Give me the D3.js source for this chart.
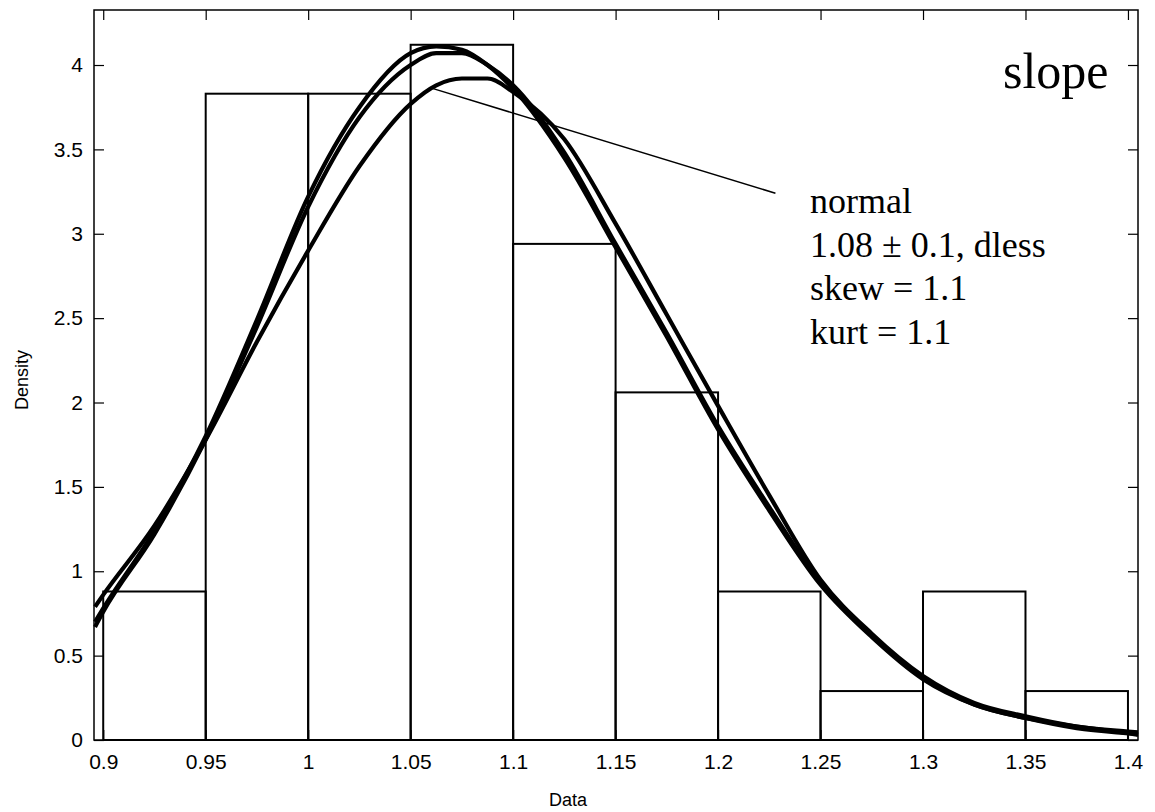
<!DOCTYPE html>
<html>
<head>
<meta charset="utf-8">
<script src="https://cdn.jsdelivr.net/npm/d3@7"></script>
<style>
  body { margin: 0; background: #fff; }
  svg { display: block; }
  .tick text { font-family: "Liberation Sans", Arial, sans-serif; font-size: 21px; fill: #000; }
  .lab { font-family: "Liberation Sans", Arial, sans-serif; font-size: 18px; fill: #000; }
  .note { font-family: "Liberation Serif", "Times New Roman", serif; fill: #000; }
</style>
</head>
<body>
<svg id="chart"></svg>
<script>
// histogram bins (edges) and density heights
var binEdges = [0.9, 0.95, 1.0, 1.05, 1.1, 1.15, 1.2, 1.25, 1.3, 1.35, 1.4];
var binDensity = [0.88, 3.83, 3.83, 4.12, 2.94, 2.06, 0.88, 0.29, 0.88, 0.29];

// fitted curves
var curveX = [0.896, 0.9, 0.925, 0.95, 0.975, 1.0, 1.025, 1.05, 1.0625, 1.075, 1.0875, 1.1, 1.125, 1.15, 1.175, 1.2, 1.225, 1.25, 1.275, 1.3, 1.325, 1.35, 1.375, 1.4, 1.4049];
var curveA = [0.70, 0.78, 1.24, 1.80, 2.49, 3.22, 3.75, 4.07, 4.11, 4.09, 4.00, 3.86, 3.45, 2.92, 2.39, 1.84, 1.36, 0.92, 0.61, 0.36, 0.21, 0.13, 0.08, 0.04, 0.03];
var curveB = [0.67, 0.76, 1.22, 1.78, 2.45, 3.16, 3.69, 4.00, 4.07, 4.07, 4.00, 3.88, 3.48, 2.94, 2.41, 1.86, 1.38, 0.93, 0.62, 0.37, 0.21, 0.13, 0.07, 0.04, 0.035];
var curveC = [0.79, 0.86, 1.27, 1.78, 2.36, 2.90, 3.40, 3.77, 3.88, 3.92, 3.92, 3.84, 3.56, 3.06, 2.52, 1.98, 1.45, 0.95, 0.63, 0.38, 0.22, 0.14, 0.08, 0.05, 0.045];

var xTicks = [0.9, 0.95, 1, 1.05, 1.1, 1.15, 1.2, 1.25, 1.3, 1.35, 1.4];
var yTicks = [0, 0.5, 1, 1.5, 2, 2.5, 3, 3.5, 4];

var noteTitle = "slope";
var noteLines = ["normal", "1.08 \u00b1 0.1, dless", "skew = 1.1", "kurt = 1.1"];
// pointer line, data units
var pointerFrom = [1.061, 3.86];
var pointerTo = [1.228, 3.24];

var width = 1155, height = 812;
var plotLeft = 94, plotRight = 1138, plotTop = 10, plotBottom = 740;

var svg = d3.select("#chart").attr("width", width).attr("height", height);

var x = d3.scaleLinear().domain([0.8955, 1.4049]).range([plotLeft, plotRight]);
var y = d3.scaleLinear().domain([0, 4.326]).range([plotBottom, plotTop]);

// bars
svg.append("g").selectAll("rect")
  .data(binDensity)
  .enter()
  .append("rect")
  .attr("x", function (d, i) { return x(binEdges[i]); })
  .attr("width", function (d, i) { return x(binEdges[i + 1]) - x(binEdges[i]); })
  .attr("y", function (d) { return y(d); })
  .attr("height", function (d) { return y(0) - y(d); })
  .attr("fill", "none")
  .attr("stroke", "#000")
  .attr("stroke-width", 2);

// curves
var line = d3.line()
  .curve(d3.curveMonotoneX)
  .x(function (d) { return x(d[0]); })
  .y(function (d) { return y(d[1]); });

[curveA, curveB, curveC].forEach(function (c) {
  svg.append("path")
    .datum(curveX.map(function (v, i) { return [v, c[i]]; }))
    .attr("d", line)
    .attr("fill", "none")
    .attr("stroke", "#000")
    .attr("stroke-width", 4.2)
    .attr("stroke-linejoin", "round");
});

// pointer
svg.append("line")
  .attr("x1", x(pointerFrom[0])).attr("y1", y(pointerFrom[1]))
  .attr("x2", x(pointerTo[0])).attr("y2", y(pointerTo[1]))
  .attr("stroke", "#000")
  .attr("stroke-width", 1.5);

// axes, ticks pointing inward on all sides
var fmt = d3.format("~g");
var xAxis = svg.append("g")
  .attr("transform", "translate(0," + plotBottom + ")")
  .call(d3.axisBottom(x).tickValues(xTicks).tickFormat(fmt).tickSizeInner(-10).tickSizeOuter(0).tickPadding(14));
var xTop = svg.append("g")
  .attr("transform", "translate(0," + plotTop + ")")
  .call(d3.axisTop(x).tickValues(xTicks).tickFormat("").tickSizeInner(-10).tickSizeOuter(0));
var yAxis = svg.append("g")
  .attr("transform", "translate(" + plotLeft + ",0)")
  .call(d3.axisLeft(y).tickValues(yTicks).tickFormat(fmt).tickSizeInner(-10).tickSizeOuter(0).tickPadding(11));
var yRight = svg.append("g")
  .attr("transform", "translate(" + plotRight + ",0)")
  .call(d3.axisRight(y).tickValues(yTicks).tickFormat("").tickSizeInner(-10).tickSizeOuter(0));

[xAxis, xTop, yAxis, yRight].forEach(function (g) {
  g.selectAll(".domain").remove();
  g.selectAll(".tick line").attr("stroke", "#000").attr("stroke-width", 1.2);
});

// frame
svg.append("rect")
  .attr("x", plotLeft).attr("y", plotTop)
  .attr("width", plotRight - plotLeft).attr("height", plotBottom - plotTop)
  .attr("fill", "none")
  .attr("stroke", "#000")
  .attr("stroke-width", 1.5);

// axis labels
svg.append("text").attr("class", "lab")
  .attr("x", 568).attr("y", 806)
  .attr("text-anchor", "middle")
  .text("Data");
svg.append("text").attr("class", "lab")
  .attr("transform", "translate(28,380) rotate(-90)")
  .attr("text-anchor", "middle")
  .text("Density");

// annotation text
svg.append("text").attr("class", "note")
  .attr("x", 1003).attr("y", 88)
  .style("font-size", "50px")
  .text(noteTitle);
svg.append("g").selectAll("text")
  .data(noteLines)
  .enter()
  .append("text")
  .attr("class", "note")
  .attr("x", 810)
  .attr("y", function (d, i) { return 213 + i * 43.5; })
  .style("font-size", "36px")
  .text(function (d) { return d; });
</script>
</body>
</html>
